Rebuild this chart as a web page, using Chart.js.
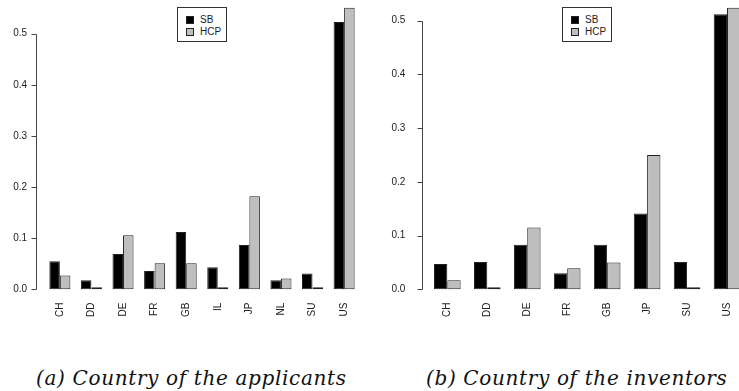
<!DOCTYPE html>
<html>
<head>
<meta charset="utf-8">
<script src="https://cdn.jsdelivr.net/npm/chart.js@4.4.0/dist/chart.umd.min.js"></script>
<style>
  html, body { margin: 0; padding: 0; background: #fff; width: 739px; height: 391px; overflow: hidden; }
  .panel { position: absolute; top: 0; }
  .legend { position: absolute; width: 48px; height: 33px; border: 1px solid #333; background: #fff;
            font: 10px "Liberation Sans", Arial, sans-serif; color: #222; }
  .legend .row { position: absolute; left: 0; height: 12px; line-height: 12px; }
  .legend .sw { position: absolute; left: 8px; top: 2px; width: 6px; height: 6px; border: 1px solid #222; }
  .legend .tx { position: absolute; left: 22px; top: 0; white-space: nowrap; }
  .caption { position: absolute; top: 368px; font: italic 20px "DejaVu Serif", serif; line-height: 20px;
             letter-spacing: 0.65px; color: #111; white-space: nowrap; }
</style>
</head>
<body>
<canvas id="applicants" class="panel" width="370" height="340" style="left:0"></canvas>
<canvas id="inventors" class="panel" width="377" height="340" style="left:370px"></canvas>
<div class="caption" style="left:36px">(a) Country of the applicants</div>
<div class="caption" style="left:426px">(b) Country of the inventors</div>
<script>
// Données (parts par pays)
const seriesNames = ['SB', 'HCP'];
const seriesColors = ['#000000', '#bebebe'];

const applicantCountries = ['CH', 'DD', 'DE', 'FR', 'GB', 'IL', 'JP', 'NL', 'SU', 'US'];
const applicantSB = [0.055, 0.018, 0.069, 0.036, 0.112, 0.043, 0.087, 0.018, 0.031, 0.523];
const applicantHCP = [0.027, 0.001, 0.106, 0.051, 0.051, 0.003, 0.182, 0.021, 0.002, 0.551];

const inventorCountries = ['CH', 'DD', 'DE', 'FR', 'GB', 'JP', 'SU', 'US'];
const inventorSB = [0.047, 0.051, 0.083, 0.030, 0.083, 0.141, 0.051, 0.512];
const inventorHCP = [0.017, 0.001, 0.115, 0.039, 0.050, 0.250, 0.002, 0.524];

const yTicks = [0, 0.1, 0.2, 0.3, 0.4, 0.5];

// Axe y façon R : ligne décalée du bord du graphique, de 0 à 0.5
const rAxis = {
    id: 'rAxis',
    afterDraw(chart, args, opts) {
        const ys = chart.scales.y;
        const ctx = chart.ctx;
        const x = Math.round(chart.chartArea.left - opts.gap) + 0.5;
        ctx.save();
        ctx.strokeStyle = '#444';
        ctx.lineWidth = 1;
        ctx.beginPath();
        ctx.moveTo(x, Math.round(ys.getPixelForValue(yTicks[0])) + 0.5);
        ctx.lineTo(x, Math.round(ys.getPixelForValue(yTicks[yTicks.length - 1])) + 0.5);
        yTicks.forEach(v => {
            const py = Math.round(ys.getPixelForValue(v)) + 0.5;
            ctx.moveTo(x, py);
            ctx.lineTo(x - 5, py);
        });
        ctx.stroke();
        ctx.restore();
    }
};

// pas de marges automatiques autour des axes
function noPadding(s) {
    s.paddingTop = 0;
    s.paddingBottom = 0;
    s.paddingLeft = 0;
    s.paddingRight = 0;
}

function makeChart(id, labels, sb, hcp, cfg) {
    const ctx = document.getElementById(id).getContext('2d');
    const values = [sb, hcp];
    const chart = new Chart(ctx, {
        type: 'bar',
        data: {
            labels: labels,
            datasets: seriesNames.map((name, i) => ({
                label: name,
                data: values[i],
                backgroundColor: seriesColors[i],
                borderColor: '#222',
                borderWidth: 1,
                borderSkipped: false,
                minBarLength: 2,
                barPercentage: 1,
                categoryPercentage: 2 / 3
            }))
        },
        options: {
            responsive: false,
            animation: false,
            events: [],
            layout: { autoPadding: false, padding: { left: 0, right: cfg.padRight, top: 0, bottom: 0 } },
            plugins: {
                legend: { display: false },
                tooltip: { enabled: false },
                rAxis: { gap: cfg.gap }
            },
            scales: {
                x: {
                    grid: { display: false, drawTicks: false },
                    border: { display: false },
                    afterFit: s => { s.height = cfg.xHeight; noPadding(s); },
                    ticks: {
                        autoSkip: false,
                        minRotation: 90,
                        maxRotation: 90,
                        padding: 2,
                        color: '#222',
                        font: { family: '"Liberation Sans", Arial, sans-serif', size: 10 }
                    }
                },
                y: {
                    min: cfg.yMin,
                    max: cfg.yMax,
                    bounds: 'data',
                    grid: { display: false, drawTicks: false },
                    border: { display: false },
                    afterFit: s => { s.width = cfg.yWidth; noPadding(s); },
                    afterBuildTicks: s => {
                        s.ticks = yTicks.map(v => ({ value: v }));
                        s.min = cfg.yMin;
                        s.max = cfg.yMax;
                    },
                    ticks: {
                        padding: cfg.labelPad,
                        color: '#222',
                        font: { family: '"Liberation Sans", Arial, sans-serif', size: 10 },
                        callback: v => Number(v).toFixed(1)
                    }
                }
            }
        },
        plugins: [rAxis]
    });

    // Légende encadrée, centrée en haut de la zone du graphique
    const area = chart.chartArea;
    const canvas = document.getElementById(id);
    const box = document.createElement('div');
    box.className = 'legend';
    const cx = canvas.offsetLeft + (area.left + area.right) / 2;
    box.style.left = Math.round(cx - 25) + 'px';
    box.style.top = Math.round(area.top + 7) + 'px';
    chart.data.datasets.forEach((ds, i) => {
        const row = document.createElement('div');
        row.className = 'row';
        row.style.top = (6 + i * 12) + 'px';
        row.innerHTML = '<span class="sw" style="background:' + ds.backgroundColor + '"></span>' +
            '<span class="tx">' + ds.label + '</span>';
        box.appendChild(row);
    });
    document.body.appendChild(box);
    return chart;
}

makeChart('applicants', applicantCountries, applicantSB, applicantHCP, {
    yMin: -0.022, yMax: 0.566, yWidth: 44.07, padRight: 10.1, xHeight: 39.4, gap: 8, labelPad: 17
});
makeChart('inventors', inventorCountries, inventorSB, inventorHCP, {
    yMin: -0.021, yMax: 0.5385, yWidth: 57.35, padRight: 0, xHeight: 39.4, gap: 5.6, labelPad: 22
});
</script>
</body>
</html>
